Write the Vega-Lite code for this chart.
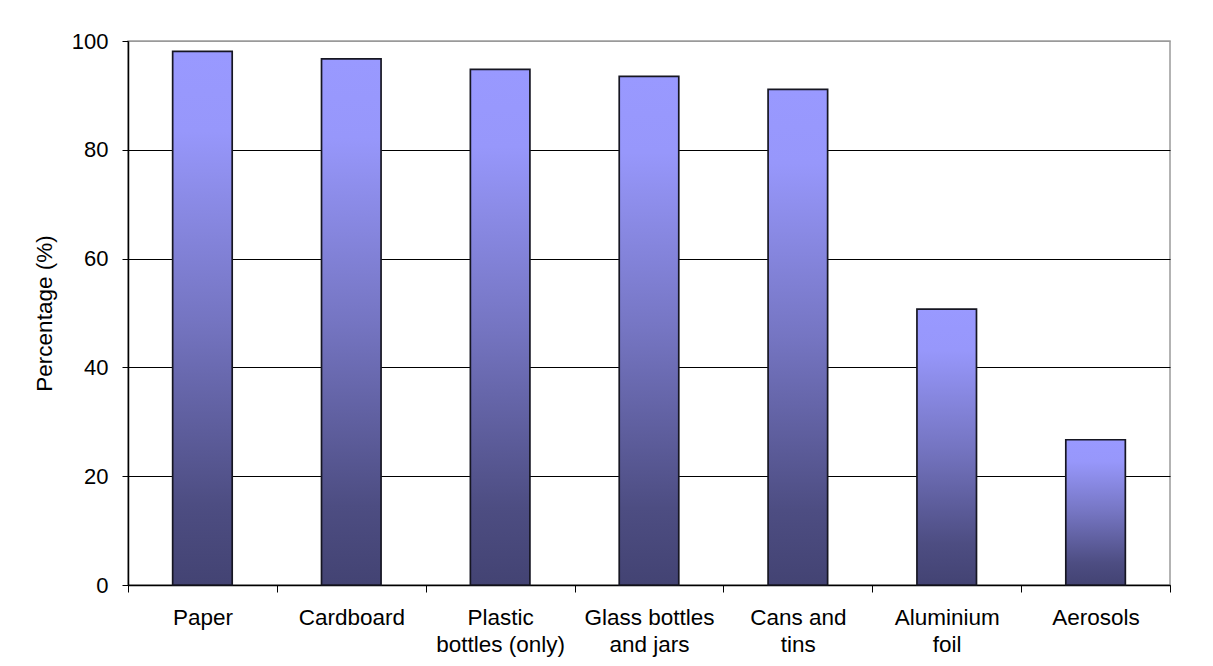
{
  "$schema": "https://vega.github.io/schema/vega-lite/v6.json",
  "autosize": "none",
  "width": 1042,
  "height": 544,
  "padding": {"left": 128, "top": 41, "right": 43, "bottom": 81},
  "background": "white",
  "config": {
    "font": "Liberation Sans",
    "view": {"stroke": "#9a9a9a", "strokeWidth": 1.5}
  },
  "data": {
    "values": [
      {"material": "Paper", "percentage": 98.1},
      {"material": "Cardboard", "percentage": 96.7},
      {"material": "Plastic bottles (only)", "percentage": 94.8},
      {"material": "Glass bottles and jars", "percentage": 93.5},
      {"material": "Cans and tins", "percentage": 91.1},
      {"material": "Aluminium foil", "percentage": 50.7},
      {"material": "Aerosols", "percentage": 26.7}
    ]
  },
  "mark": {
    "type": "bar",
    "width": {"band": 0.4},
    "stroke": "#161622",
    "strokeWidth": 1.7,
    "color": {
      "gradient": "linear",
      "x1": 0, "y1": 0, "x2": 0, "y2": 1,
      "stops": [
        {"offset": 0, "color": "#9999ff"},
        {"offset": 0.15, "color": "#9797fb"},
        {"offset": 0.5, "color": "#7575c2"},
        {"offset": 0.85, "color": "#4d4d82"},
        {"offset": 1, "color": "#434373"}
      ]
    }
  },
  "encoding": {
    "x": {
      "field": "material",
      "type": "nominal",
      "sort": null,
      "scale": {"paddingInner": 0, "paddingOuter": 0},
      "axis": {
        "title": null,
        "labelAngle": 0,
        "labelFontSize": 22.5,
        "labelColor": "black",
        "labelPadding": 14,
        "labelLineHeight": 27,
        "labelBaseline": "top",
        "tickBand": "extent",
        "tickSize": 7,
        "tickColor": "black",
        "domainColor": "black",
        "domainWidth": 1.5,
        "labelExpr": "datum.label == 'Plastic bottles (only)' ? ['Plastic', 'bottles (only)'] : datum.label == 'Glass bottles and jars' ? ['Glass bottles', 'and jars'] : datum.label == 'Cans and tins' ? ['Cans and', 'tins'] : datum.label == 'Aluminium foil' ? ['Aluminium', 'foil'] : datum.label"
      }
    },
    "y": {
      "field": "percentage",
      "type": "quantitative",
      "scale": {"domain": [0, 100], "nice": false},
      "axis": {
        "title": "Percentage (%)",
        "titleFontSize": 22.5,
        "titleFontWeight": "normal",
        "titleColor": "black",
        "titlePadding": 15,
        "values": [0, 20, 40, 60, 80, 100],
        "labelFontSize": 22,
        "labelColor": "black",
        "labelPadding": 14,
        "tickSize": 6,
        "tickColor": "black",
        "domainColor": "black",
        "domainWidth": 1.5,
        "grid": true,
        "gridColor": {"condition": {"test": "datum.value === 100", "value": "#9a9a9a"}, "value": "black"},
        "gridWidth": 1
      }
    }
  }
}
